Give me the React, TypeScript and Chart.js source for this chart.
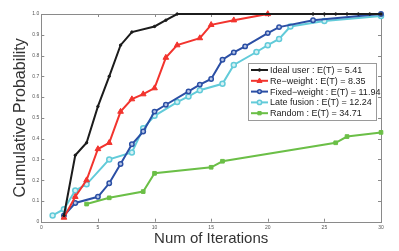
import React, { useEffect, useRef } from "react";
import { Chart, registerables } from "chart.js";
Chart.register(...registerables);

const xTicks = [0, 5, 10, 15, 20, 25, 30];
const yTicks = [0, 0.1, 0.2, 0.3, 0.4, 0.5, 0.6, 0.7, 0.8, 0.9, 1];

const idealX = [2, 3, 4, 5, 6, 7, 8, 10, 11, 12, 24, 25, 26, 27, 28, 29, 30];
const idealY = [0.03, 0.32, 0.38, 0.555, 0.7, 0.85, 0.913, 0.94, 0.97, 1, 1, 1, 1, 1, 1, 1, 1];

const reweightX = [2, 3, 4, 5, 6, 7, 8, 9, 10, 11, 12, 14, 15, 17, 20];
const reweightY = [0.02, 0.12, 0.2, 0.35, 0.38, 0.53, 0.59, 0.614, 0.643, 0.79, 0.85, 0.884, 0.948, 0.97, 1.0];

const fixedX = [2, 3, 5, 6, 7, 8, 9, 10, 11, 13, 14, 15, 16, 17, 18, 20, 21, 24, 30];
const fixedY = [0.03, 0.09, 0.12, 0.185, 0.278, 0.373, 0.434, 0.53, 0.563, 0.627, 0.66, 0.687, 0.78, 0.815, 0.844, 0.908, 0.937, 0.97, 1.0];

const lateX = [1, 2, 3, 4, 6, 8, 9, 10, 12, 13, 14, 16, 17, 19, 20, 21, 22, 25, 30];
const lateY = [0.03, 0.06, 0.15, 0.18, 0.3, 0.333, 0.45, 0.51, 0.576, 0.603, 0.633, 0.664, 0.755, 0.817, 0.85, 0.88, 0.94, 0.966, 0.99];

const randomX = [4, 6, 9, 10, 15, 16, 26, 27, 30];
const randomY = [0.085, 0.115, 0.145, 0.233, 0.262, 0.291, 0.38, 0.41, 0.43];

const labels = [
  "Ideal user : E(T) = 5.41",
  "Re\u2212weight : E(T) = 8.35",
  "Fixed\u2212weight : E(T) = 11.94",
  "Late fusion : E(T) = 12.24",
  "Random : E(T) = 34.71",
];

const pts = (xs: number[], ys: number[]) => xs.map((x, i) => ({ x, y: ys[i] }));

const FONT = "'Liberation Sans', Arial, Helvetica, sans-serif";

function drawMarker(ctx: CanvasRenderingContext2D, style: string, r: number, x: number, y: number) {
  ctx.beginPath();
  if (style === "triangle") {
    ctx.moveTo(x, y - r);
    ctx.lineTo(x + r * 0.9, y + r * 0.6);
    ctx.lineTo(x - r * 0.9, y + r * 0.6);
    ctx.closePath();
  } else if (style === "rect") {
    ctx.rect(x - r * 0.75, y - r * 0.75, r * 1.5, r * 1.5);
  } else {
    ctx.arc(x, y, r, 0, Math.PI * 2);
  }
  ctx.fill();
  ctx.stroke();
}

const framePlugin = {
  id: "frame",
  beforeDatasetsDraw(chart: any) {
    const { ctx, chartArea: a, scales } = chart;
    ctx.save();
    ctx.strokeStyle = "#8a8a8a";
    ctx.lineWidth = 1;
    ctx.strokeRect(Math.round(a.left) + 0.5, Math.round(a.top) + 0.5, Math.round(a.right - a.left), Math.round(a.bottom - a.top));
    const L = 3;
    ctx.beginPath();
    xTicks.forEach((v) => {
      const px = Math.round(scales.x.getPixelForValue(v)) + 0.5;
      ctx.moveTo(px, a.bottom);
      ctx.lineTo(px, a.bottom - L);
      ctx.moveTo(px, a.top);
      ctx.lineTo(px, a.top + L);
    });
    yTicks.forEach((v) => {
      const py = Math.round(scales.y.getPixelForValue(v)) + 0.5;
      ctx.moveTo(a.left, py);
      ctx.lineTo(a.left + L, py);
      ctx.moveTo(a.right, py);
      ctx.lineTo(a.right - L, py);
    });
    ctx.stroke();
    ctx.restore();
  },
  afterDatasetsDraw(chart: any) {
    const { ctx } = chart;
    ctx.save();
    const bx = 248, by = 63, bw = 128, bh = 57;
    ctx.fillStyle = "#ffffff";
    ctx.fillRect(bx, by, bw, bh);
    ctx.strokeStyle = "#9a9a9a";
    ctx.lineWidth = 1;
    ctx.strokeRect(bx + 0.5, by + 0.5, bw, bh);
    chart.data.datasets.forEach((ds: any, i: number) => {
      const y = 70 + i * 10.8;
      ctx.strokeStyle = ds.borderColor;
      ctx.lineWidth = 2;
      ctx.beginPath();
      ctx.moveTo(251, y);
      ctx.lineTo(268, y);
      ctx.stroke();
      ctx.lineWidth = ds.pointBorderWidth;
      ctx.fillStyle = ds.pointBackgroundColor;
      ctx.strokeStyle = ds.borderColor;
      drawMarker(ctx, ds.pointStyle, Math.max(ds.pointRadius * 0.85, 1.3), 259.5, y);
      ctx.fillStyle = "#222";
      ctx.font = `9px ${FONT}`;
      ctx.textBaseline = "middle";
      ctx.textAlign = "left";
      ctx.fillText(ds.label, 270, y + 0.5);
    });
    ctx.restore();
  },
};

export default function App() {
  const ref = useRef<HTMLCanvasElement>(null);
  useEffect(() => {
    const mk = (label: string, data: any, color: string, style: string, radius: number, bg: string, bw: number) => ({
      label,
      data,
      borderColor: color,
      backgroundColor: bg,
      pointBackgroundColor: bg,
      pointBorderColor: color,
      pointBorderWidth: bw,
      pointStyle: style,
      pointRadius: radius,
      borderWidth: 2,
      tension: 0,
      fill: false,
      clip: 6,
    });
    const chart = new Chart(ref.current!, {
      type: "line",
      data: {
        datasets: [
          mk(labels[0], pts(idealX, idealY), "#1c1c1c", "circle", 1.2, "#1c1c1c", 1),
          mk(labels[1], pts(reweightX, reweightY), "#f2342e", "triangle", 3.3, "#f2342e", 1),
          mk(labels[2], pts(fixedX, fixedY), "#2b4fa5", "circle", 2.2, "#b8c6e6", 1.5),
          mk(labels[3], pts(lateX, lateY), "#62cbd9", "circle", 2.5, "#d6f1f5", 1.5),
          mk(labels[4], pts(randomX, randomY), "#6bbf47", "rect", 2.6, "#6bbf47", 1),
        ] as any,
      },
      options: {
        animation: false,
        responsive: false,
        devicePixelRatio: 1,
        layout: { padding: { top: 14, right: 18, left: 0, bottom: 0 } },
        plugins: { legend: { display: false }, tooltip: { enabled: false } },
        scales: {
          x: {
            type: "linear",
            min: 0,
            max: 30,
            afterBuildTicks: (s: any) => {
              s.ticks = xTicks.map((v) => ({ value: v }));
            },
            afterFit: (s: any) => {
              s.height = 29.3;
            },
            grid: { display: false, drawTicks: false },
            border: { display: false },
            ticks: { font: { size: 5, family: FONT }, color: "#555", padding: 3, maxRotation: 0 },
            title: {
              display: true,
              text: "Num of Iterations",
              font: { size: 15, family: FONT },
              color: "#333",
              padding: { top: 0, bottom: 3.5 },
            },
          },
          y: {
            type: "linear",
            min: 0,
            max: 1,
            afterBuildTicks: (s: any) => {
              s.ticks = yTicks.map((v) => ({ value: v }));
            },
            afterFit: (s: any) => {
              s.width = 41.3;
            },
            grid: { display: false, drawTicks: false },
            border: { display: false },
            ticks: { font: { size: 5, family: FONT }, color: "#555", padding: 2 },
            title: {
              display: true,
              text: "Cumulative Probability",
              font: { size: 16, family: FONT },
              color: "#333",
              padding: { top: 11, bottom: 0 },
            },
          },
        },
      },
      plugins: [framePlugin],
    });
    return () => chart.destroy();
  }, []);
  return (
    <div style={{ position: "fixed", left: 0, top: 0, width: 399, height: 251, background: "#fff" }}>
      <canvas ref={ref} width={399} height={251} style={{ width: 399, height: 251, display: "block" }} />
    </div>
  );
}
